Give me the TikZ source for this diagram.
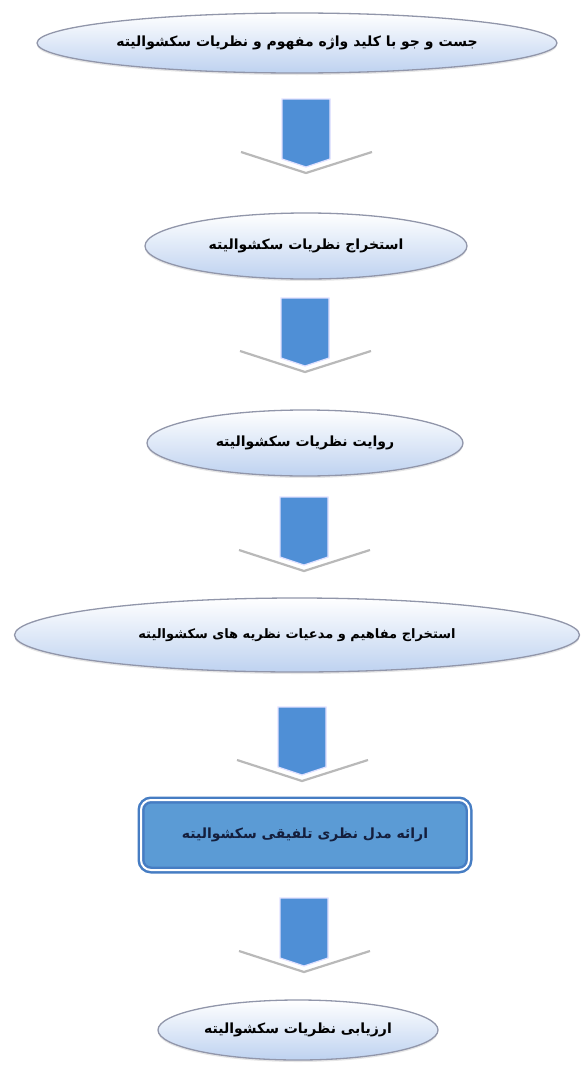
\documentclass[tikz,border=0pt]{standalone}
\usepackage{fontspec}
\newfontfamily\arabicfont[Script=Arabic]{DejaVu Sans}
\TeXXeTstate=1
\usetikzlibrary{shapes.geometric,shadows}

\definecolor{elblue}{RGB}{190,210,240}
\definecolor{elborder}{RGB}{145,150,170}
\definecolor{arrowblue}{RGB}{79,143,214}
\definecolor{boxblue}{RGB}{91,155,213}
\definecolor{boxborder}{RGB}{70,125,195}
\definecolor{boxtext}{RGB}{20,30,60}

\tikzset{
  blockarrow/.pic={
    \fill[white] (-65,53) -- (66,53) -- (0,74) -- cycle;
    \draw[gray!55, line width=2.2pt, line join=round] (-65,53) -- (0,74) -- (66,53);
    \draw[blue!12, line width=1.2pt, fill=arrowblue] (-24,0) -- (24,0) -- (24,60) -- (0,68) -- (-24,60) -- cycle;
  }
}

\begin{document}
\begin{tikzpicture}[x=1pt, y=-1pt,
  stage/.style={ellipse, draw=elborder, line width=1.3pt, inner sep=0pt,
    top color=white, bottom color=elblue,
    drop shadow={opacity=0.2, shadow xshift=0pt, shadow yshift=-2pt},
    font=\arabicfont\bfseries\fontsize{14}{16}\selectfont},
  result/.style={rectangle, rounded corners=10pt, fill=boxblue, draw=boxborder,
    line width=2.5pt, double=white, double distance=2pt, inner sep=0pt,
    drop shadow={opacity=0.25, shadow xshift=0pt, shadow yshift=-2pt},
    text=boxtext, font=\arabicfont\bfseries\fontsize{14}{16}\selectfont}]

\useasboundingbox (0,0) rectangle (585,1068);

% stages
\node[stage, minimum width=520pt, minimum height=60pt] (search) at (297,43) {\beginR جست و جو با کلید واژه مفهوم و نظریات سکشوالیته\endR};
\node[stage, minimum width=322pt, minimum height=66pt] (extract) at (306,246) {\beginR استخراج نظریات سکشوالیته\endR};
\node[stage, minimum width=316pt, minimum height=66pt] (narrate) at (305,443) {\beginR روایت نظریات سکشوالیته\endR};
\node[stage, minimum width=565pt, minimum height=74pt, font=\arabicfont\bfseries\fontsize{13}{15}\selectfont] (concepts) at (297,635) {\beginR استخراج مفاهیم و مدعیات نظریه های سکشوالیته\endR};
\node[result, minimum width=328pt, minimum height=70pt] (model) at (305,835) {\beginR ارائه مدل نظری تلفیقی سکشوالیته\endR};
\node[stage, minimum width=280pt, minimum height=60pt] (evaluate) at (298,1030) {\beginR ارزیابی  نظریات سکشوالیته\endR};

% arrows
\pic at (306,99) {blockarrow};
\pic at (305,298) {blockarrow};
\pic at (304,497) {blockarrow};
\pic at (302,707) {blockarrow};
\pic at (304,898) {blockarrow};

\end{tikzpicture}
\end{document}
